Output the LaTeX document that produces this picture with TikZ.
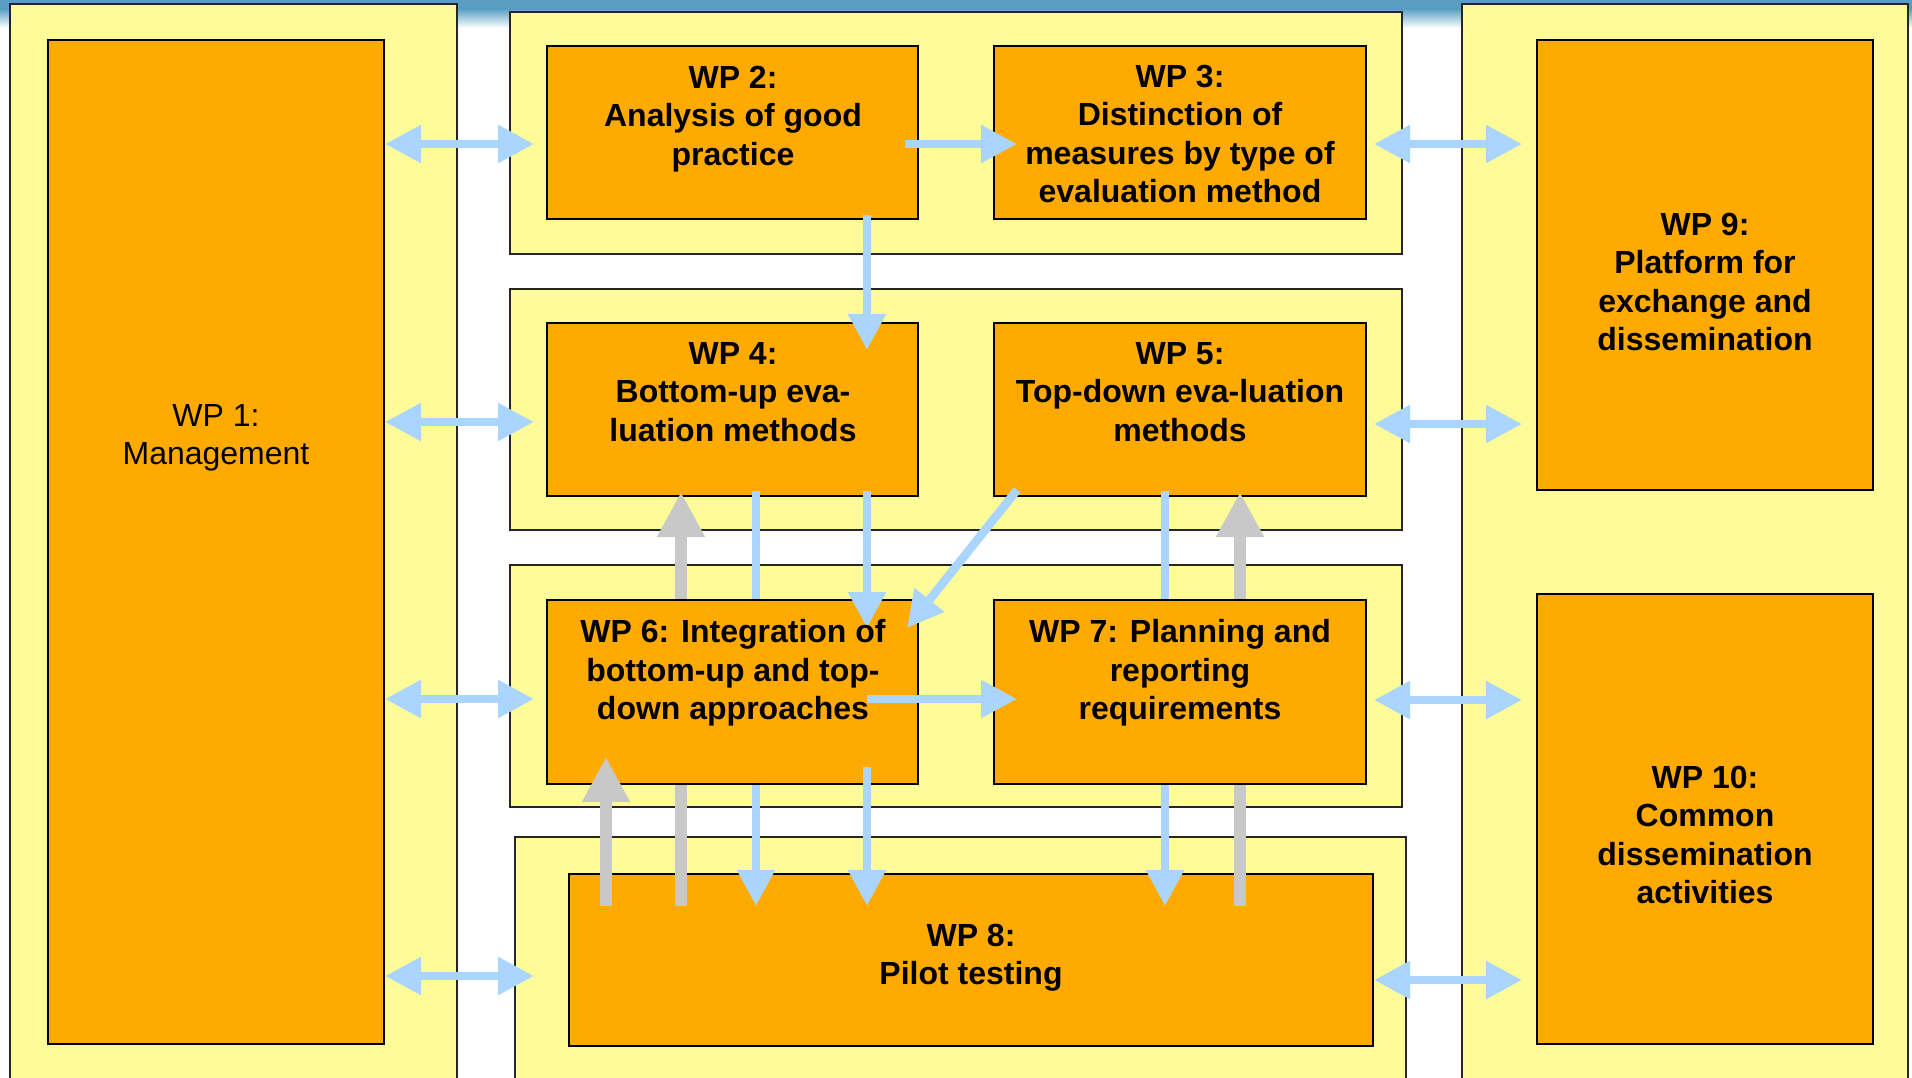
\documentclass[tikz,border=0pt]{standalone}
\usepackage{fontspec}
\setmainfont{Liberation Sans}
\usetikzlibrary{arrows.meta,fit}
\definecolor{panel}{RGB}{253,252,153}
\definecolor{wpor}{RGB}{255,170,0}
\definecolor{arrblue}{RGB}{170,213,255}
\definecolor{arrgray}{RGB}{200,200,200}
\definecolor{topblue}{RGB}{88,158,195}
\begin{document}
\begin{tikzpicture}[x=0.5pt,y=-0.5pt,
  panelbox/.style={draw=black!85, line width=0.9pt, fill=panel, inner sep=0pt},
  wpbox/.style={draw=black, line width=0.9pt, fill=wpor, inner sep=0pt},
  wptext/.style={font=\fontsize{16}{19.2}\selectfont\bfseries, align=center, inner sep=0pt},
  wptextreg/.style={font=\fontsize{16}{19.2}\selectfont, align=center, inner sep=0pt},
  bluearr/.style={draw=arrblue, line width=4.3pt, -{Triangle[width=18pt,length=18pt]}},
  bluedbl/.style={draw=arrblue, line width=4.3pt, {Triangle[width=18pt,length=18pt]}-{Triangle[width=18pt,length=18pt]}},
  grayarr/.style={draw=arrgray, line width=5.8pt, -{Triangle[width=22.5pt,length=22.5pt]}},
]
\useasboundingbox (0,0) rectangle (1912,1077);
\fill[white] (0,0) rectangle (1912,1077);
\fill[topblue] (0,0) rectangle (1912,9);
\shade[top color=topblue, bottom color=white] (0,8.5) rectangle (1912,28);

% panels
\node[panelbox, fit={(10,4) (457,1090)}] (pleft) {};
\node[panelbox, fit={(1462,4) (1908,1090)}] (pright) {};
\node[panelbox, fit={(510,12) (1402,254)}] (prow1) {};
\node[panelbox, fit={(510,289) (1402,530)}] (prow2) {};
\node[panelbox, fit={(510,565) (1402,807)}] (prow3) {};
\node[panelbox, fit={(515,837) (1406,1090)}] (prow4) {};

% work package boxes (first layer)
\node[wpbox, fit={(48,40) (384,1044)}] (wp1) {};
\node[wpbox, fit={(547,46) (918,219)}] (wp2) {};
\node[wpbox, fit={(994,46) (1366,219)}] (wp3) {};
\node[wpbox, fit={(547,323) (918,496)}] (wp4) {};
\node[wpbox, fit={(994,323) (1366,496)}] (wp5) {};
\node[wpbox, fit={(569,874) (1373,1046)}] (wp8) {};
\node[wpbox, fit={(1537,40) (1873,490)}] (wp9) {};
\node[wpbox, fit={(1537,594) (1873,1044)}] (wp10) {};

% connector end points
\coordinate (la1) at (385,144);  \coordinate (lb1) at (534,144);
\coordinate (la2) at (385,422);  \coordinate (lb2) at (534,422);
\coordinate (la3) at (385,699);  \coordinate (lb3) at (534,699);
\coordinate (la4) at (385,976);  \coordinate (lb4) at (534,976);
\coordinate (ra1) at (1374,144); \coordinate (rb1) at (1522,144);
\coordinate (ra2) at (1374,424); \coordinate (rb2) at (1522,424);
\coordinate (ra3) at (1374,700); \coordinate (rb3) at (1522,700);
\coordinate (ra4) at (1374,980); \coordinate (rb4) at (1522,980);
\coordinate (s23) at (905,144);  \coordinate (e23) at (1017,144);
\coordinate (s24) at (867,215);  \coordinate (e24) at (867,350);
\coordinate (s48a) at (756,491); \coordinate (e48a) at (756,906);
\coordinate (s58) at (1165,491); \coordinate (e58) at (1165,906);
\coordinate (s84a) at (681,906); \coordinate (e84a) at (681,492);
\coordinate (s85) at (1240,906); \coordinate (e85) at (1240,492);
\coordinate (s46) at (867,491);  \coordinate (e46) at (867,628);
\coordinate (s56) at (1017,490); \coordinate (e56) at (907,628);
\coordinate (s67) at (867,699);  \coordinate (e67) at (1017,699);
\coordinate (s86) at (606,906);  \coordinate (e86) at (606,757);
\coordinate (s68) at (867,767);  \coordinate (e68) at (867,906);

% long connectors passing behind WP 6 and WP 7
\draw[bluearr] (s48a) -- (e48a);
\draw[bluearr] (s58) -- (e58);
\draw[grayarr] (s84a) -- (e84a);
\draw[grayarr] (s85) -- (e85);

% work package boxes (second layer)
\node[wpbox, fit={(547,600) (918,784)}] (wp6) {};
\node[wpbox, fit={(994,600) (1366,784)}] (wp7) {};

% remaining connectors
\draw[bluedbl] (la1) -- (lb1);
\draw[bluedbl] (la2) -- (lb2);
\draw[bluedbl] (la3) -- (lb3);
\draw[bluedbl] (la4) -- (lb4);
\draw[bluedbl] (ra1) -- (rb1);
\draw[bluedbl] (ra2) -- (rb2);
\draw[bluedbl] (ra3) -- (rb3);
\draw[bluedbl] (ra4) -- (rb4);
\draw[bluearr] (s23) -- (e23);
\draw[bluearr] (s24) -- (e24);
\draw[bluearr] (s46) -- (e46);
\draw[bluearr] (s56) -- (e56);
\draw[bluearr] (s67) -- (e67);
\draw[grayarr] (s86) -- (e86);
\draw[bluearr] (s68) -- (e68);

% texts
\node[wptextreg] (t1) at (216,438) {WP 1:\\Management};
\node[wptext] (t2) at (733,119) {WP 2:\\Analysis of good\\practice};
\node[wptext] (t3) at (1180,134) {WP 3:\\Distinction of\\measures by type of\\evaluation method};
\node[wptext] (t4) at (733,392) {WP 4:\\Bottom-up eva-\\luation methods};
\node[wptext] (t5) at (1180,392) {WP 5:\\Top-down eva-luation\\methods};
\node[wptext] (t6) at (733,673) {WP 6: Integration of\\bottom-up and top-\\down approaches};
\node[wptext] (t7) at (1180,673) {WP 7: Planning and\\reporting\\requirements};
\node[wptext] (t8) at (971,958) {WP 8:\\Pilot testing};
\node[wptext] (t9) at (1705,282) {WP 9:\\Platform for\\exchange and\\dissemination};
\node[wptext] (t10) at (1705,835) {WP 10:\\Common\\dissemination\\activities};
\end{tikzpicture}
\end{document}
